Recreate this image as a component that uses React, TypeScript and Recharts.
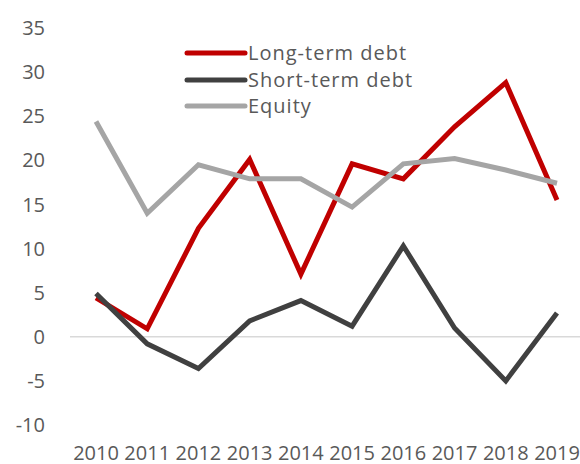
import React from 'react';
import { LineChart, Line, XAxis, YAxis, ReferenceLine } from 'recharts';

const years = ['2010', '2011', '2012', '2013', '2014', '2015', '2016', '2017', '2018', '2019'];
const longTermDebt = [4.4, 0.9, 12.3, 20.1, 7.1, 19.6, 17.9, 23.8, 28.8, 15.5];
const shortTermDebt = [4.9, -0.8, -3.6, 1.8, 4.1, 1.2, 10.3, 1.0, -5.0, 2.7];
const equity = [24.4, 14.0, 19.5, 17.9, 17.9, 14.7, 19.6, 20.2, 18.9, 17.4];
const yTicks = [-10, -5, 0, 5, 10, 15, 20, 25, 30, 35];

const seriesDefs = [
  { key: 'lt', name: 'Long-term debt', color: '#C00000' },
  { key: 'st', name: 'Short-term debt', color: '#404040' },
  { key: 'eq', name: 'Equity', color: '#A5A5A5' },
];

const data = years.map((year, i) => ({
  year,
  lt: longTermDebt[i],
  st: shortTermDebt[i],
  eq: equity[i],
}));

const FONT = '"Open Sans", sans-serif';
const TEXT = '#595959';

function LegendBox() {
  return (
    <div style={{ position: 'absolute', left: 184, top: 39.5, fontFamily: FONT, fontSize: 20, color: TEXT }}>
      {seriesDefs.map((s) => (
        <div key={s.key} style={{ display: 'flex', alignItems: 'center', height: 26.8 }}>
          <svg width={64} height={10} style={{ display: 'block' }}>
            <line x1={3} y1={5} x2={61} y2={5} stroke={s.color} strokeWidth={5} strokeLinecap="round" />
          </svg>
          <span style={{ marginLeft: 0, lineHeight: '26px', whiteSpace: 'nowrap', letterSpacing: 1 }}>{s.name}</span>
        </div>
      ))}
    </div>
  );
}

export default function App() {
  return (
    <div style={{ position: 'absolute', left: 0, top: 0, width: 580, height: 464 }}>
      <LineChart width={580} height={464} data={data} margin={{ top: 28, right: 0, bottom: 0, left: 0 }}>
        <XAxis
          dataKey="year"
          axisLine={false}
          tickLine={false}
          interval={0}
          height={39}
          tickMargin={15}
          padding={{ left: 26, right: 23 }}
          tick={{ fill: TEXT, fontSize: 20, fontFamily: FONT }}
        />
        <YAxis
          domain={[-10, 35]}
          ticks={yTicks}
          axisLine={false}
          tickLine={false}
          width={70}
          tickMargin={19}
          interval={0}
          tick={{ fill: TEXT, fontSize: 20, fontFamily: FONT }}
        />
        <ReferenceLine y={0} stroke="#D9D9D9" strokeWidth={1.5} />
        {seriesDefs.map((s) => (
          <Line key={s.key} name={s.name} dataKey={s.key} stroke={s.color} strokeWidth={5} dot={false} isAnimationActive={false} />
        ))}
      </LineChart>
      <LegendBox />
    </div>
  );
}
